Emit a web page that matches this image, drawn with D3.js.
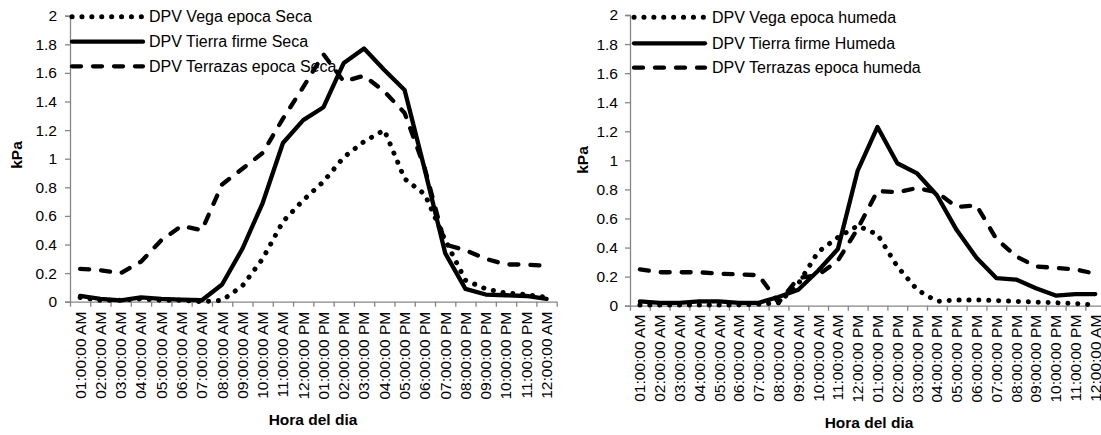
<!DOCTYPE html>
<html>
<head>
<meta charset="utf-8">
<script src="https://cdn.jsdelivr.net/npm/d3@7"></script>
<style>
  html, body { margin: 0; padding: 0; background: #fff; }
  svg { display: block; }
  text { font-family: "Liberation Sans", Arial, sans-serif; fill: #000; }
</style>
</head>
<body>
<svg id="chart" width="1101" height="435"></svg>
<script>
// Hourly vapour pressure deficit (DPV, kPa) for three landscape units,
// dry season (left panel) and wet season (right panel).
const hours = [
  "01:00:00 AM", "02:00:00 AM", "03:00:00 AM", "04:00:00 AM", "05:00:00 AM", "06:00:00 AM",
  "07:00:00 AM", "08:00:00 AM", "09:00:00 AM", "10:00:00 AM", "11:00:00 AM", "12:00:00 PM",
  "01:00:00 PM", "02:00:00 PM", "03:00:00 PM", "04:00:00 PM", "05:00:00 PM", "06:00:00 PM",
  "07:00:00 PM", "08:00:00 PM", "09:00:00 PM", "10:00:00 PM", "11:00:00 PM", "12:00:00 AM"
];

const yTicks = [0, 0.2, 0.4, 0.6, 0.8, 1, 1.2, 1.4, 1.6, 1.8, 2];
const yTickLabels = ["0", "0.2", "0.4", "0.6", "0.8", "1", "1.2", "1.4", "1.6", "1.8", "2"];

// Dry season
const vegaSeca = [0.03, 0.01, 0.01, 0.02, 0.01, 0.01, 0.00, 0.01, 0.11, 0.30, 0.56, 0.71,
                  0.84, 1.01, 1.12, 1.20, 0.86, 0.75, 0.43, 0.15, 0.09, 0.06, 0.05, 0.03];
const tierraSeca = [0.04, 0.02, 0.01, 0.03, 0.02, 0.015, 0.01, 0.12, 0.37, 0.69, 1.11, 1.27,
                    1.36, 1.67, 1.77, 1.62, 1.48, 0.92, 0.34, 0.09, 0.05, 0.045, 0.04, 0.02];
const terrazasSeca = [0.23, 0.22, 0.20, 0.28, 0.43, 0.53, 0.50, 0.82, 0.93, 1.04, 1.28, 1.50,
                      1.73, 1.54, 1.58, 1.47, 1.32, 0.93, 0.40, 0.36, 0.30, 0.26, 0.26, 0.25];

// Wet season
const vegaHumeda = [0.005, 0.005, 0.005, 0.005, 0.005, 0.005, 0.01, 0.02, 0.15, 0.37, 0.47, 0.55,
                    0.49, 0.27, 0.11, 0.03, 0.04, 0.04, 0.035, 0.03, 0.025, 0.02, 0.015, 0.005];
const tierraHumeda = [0.03, 0.02, 0.02, 0.03, 0.03, 0.02, 0.02, 0.06, 0.11, 0.24, 0.39, 0.93,
                      1.23, 0.98, 0.91, 0.76, 0.52, 0.33, 0.19, 0.18, 0.12, 0.07, 0.08, 0.08];
const terrazasHumeda = [0.25, 0.23, 0.23, 0.23, 0.22, 0.215, 0.21, 0.02, 0.19, 0.21, 0.31, 0.53,
                        0.79, 0.78, 0.81, 0.78, 0.68, 0.69, 0.46, 0.34, 0.27, 0.26, 0.25, 0.22];

const leftNames = ["DPV Vega epoca Seca", "DPV Tierra firme Seca", "DPV Terrazas epoca Seca"];
const rightNames = ["DPV Vega epoca humeda", "DPV Tierra firme Humeda", "DPV Terrazas epoca humeda"];
const xTitle = "Hora del dia";
const yTitle = "kPa";

const AXIS = "#868686";
const styles = [
  { dash: "0.1,9.8", width: 5 },   // dotted
  { dash: null, width: 4.3 },      // solid
  { dash: "9,12", width: 4.3 }     // long dash
];

const svg = d3.select("#chart");

function panel(cfg) {
  const g = svg.append("g");
  const x = d3.scaleBand().domain(hours).range([cfg.x0, cfg.x1]).padding(0);
  const xb = d3.scaleLinear().domain([0, hours.length]).range([cfg.x0, cfg.x1]);
  const y = d3.scaleLinear().domain([0, 2]).range([cfg.yBottom, cfg.yTop]);

  // y axis
  const yAxis = g.append("g")
    .attr("transform", `translate(${cfg.x0},0)`)
    .call(d3.axisLeft(y).tickValues(yTicks)
      .tickFormat((d, i) => yTickLabels[i]).tickSize(5).tickPadding(cfg.yPad));
  yAxis.select(".domain").attr("stroke", AXIS).attr("stroke-width", 1.3);
  yAxis.selectAll(".tick line").attr("stroke", AXIS).attr("stroke-width", 1.3);
  yAxis.selectAll(".tick text")
    .style("font-family", "'Liberation Sans', Arial, sans-serif")
    .style("font-size", "15.5px").attr("fill", "#000");

  // x axis: boundary ticks
  const xTickAxis = g.append("g")
    .attr("transform", `translate(0,${cfg.yBottom})`)
    .call(d3.axisBottom(xb).tickValues(d3.range(0, hours.length + 1))
      .tickFormat("").tickSize(5).tickSizeOuter(0));
  xTickAxis.select(".domain").attr("stroke", AXIS).attr("stroke-width", 1.3);
  xTickAxis.selectAll(".tick line").attr("stroke", AXIS).attr("stroke-width", 1.3);

  // x axis: category labels (rotated)
  const xLab = g.append("g")
    .attr("transform", `translate(0,${cfg.yBottom})`)
    .call(d3.axisBottom(x).tickSize(0).tickPadding(0));
  xLab.select(".domain").remove();
  xLab.selectAll(".tick text")
    .style("font-family", "'Liberation Sans', Arial, sans-serif")
    .style("font-size", "15.5px").attr("fill", "#000")
    .attr("text-anchor", "end")
    .attr("transform", `translate(0,${cfg.labelGap}) rotate(-90)`)
    .attr("x", 0).attr("y", 0).attr("dy", "0.35em");

  // series
  const line = d3.line()
    .x((d, i) => x(hours[i]) + x.bandwidth() / 2)
    .y(d => y(d));
  cfg.series.forEach((s, k) => {
    g.append("path")
      .datum(s)
      .attr("d", line)
      .attr("fill", "none")
      .attr("stroke", "#000")
      .attr("stroke-width", styles[k].width)
      .attr("stroke-linecap", "round")
      .attr("stroke-linejoin", "round")
      .attr("stroke-dasharray", styles[k].dash);
  });

  // legend
  const leg = g.append("g");
  cfg.names.forEach((n, k) => {
    const ly = cfg.legY[k];
    leg.append("line")
      .attr("x1", cfg.legX0).attr("x2", cfg.legX1)
      .attr("y1", ly).attr("y2", ly)
      .attr("stroke", "#000")
      .attr("stroke-width", styles[k].width)
      .attr("stroke-linecap", "round")
      .attr("stroke-dasharray", styles[k].dash);
    leg.append("text")
      .attr("x", cfg.legText).attr("y", ly).attr("dy", "0.36em")
      .style("font-size", "16px")
      .text(n);
  });

  // axis titles
  g.append("text")
    .attr("x", cfg.xTitleX).attr("y", cfg.xTitleY)
    .attr("text-anchor", "middle")
    .style("font-size", "15.5px").style("font-weight", "bold")
    .text(xTitle);
  g.append("text")
    .attr("transform", `translate(${cfg.yTitleX},${cfg.yTitleY}) rotate(-90)`)
    .attr("text-anchor", "middle").attr("dy", "0.35em")
    .style("font-size", "15.5px").style("font-weight", "bold")
    .text(yTitle);
}

panel({
  x0: 70, x1: 556.7, yTop: 15.7, yBottom: 301.7, yPad: 8, labelGap: 10,
  series: [vegaSeca, tierraSeca, terrazasSeca], names: leftNames,
  legX0: 72, legX1: 143, legText: 149, legY: [16.7, 41.7, 66.3],
  xTitleX: 313, xTitleY: 425, yTitleX: 17, yTitleY: 155
});

panel({
  x0: 630, x1: 1105.2, yTop: 15, yBottom: 305.7, yPad: 7, labelGap: 9,
  series: [vegaHumeda, tierraHumeda, terrazasHumeda], names: rightNames,
  legX0: 634, legX1: 705, legText: 712, legY: [17.3, 43.3, 67.7],
  xTitleX: 869, xTitleY: 428, yTitleX: 583, yTitleY: 160
});
</script>
</body>
</html>
